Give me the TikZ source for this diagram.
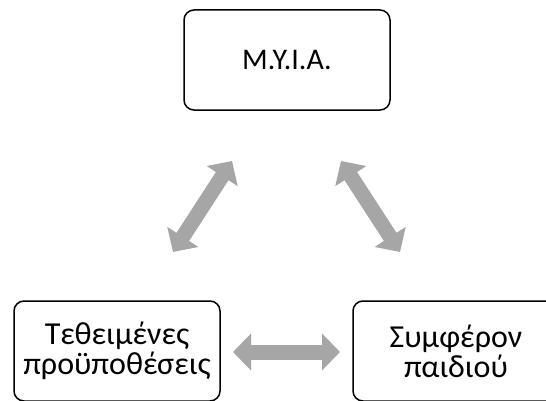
\documentclass[tikz,border=0pt]{standalone}
\usepackage{fontspec}
\setmainfont{Carlito}
\usetikzlibrary{arrows.meta}
\definecolor{arrowgray}{HTML}{A6A6A6}
\tikzset{
  box/.style={draw=black, line width=1.5pt, rounded corners=10pt,
    minimum width=206pt, minimum height=100pt, align=center,
    inner sep=0pt},
  toptext/.style={font=\fontsize{30}{32}\selectfont},
  bottext/.style={font=\fontsize{32}{30}\selectfont},
  dblarrow/.style={draw=arrowgray, line width=15pt,
    {Triangle[width=36pt,length=18pt]}-{Triangle[width=36pt,length=18pt]}}
}
\begin{document}
\begin{tikzpicture}[x=1pt,y=1pt]
\useasboundingbox (0,0) rectangle (546,400);
\clip (0,0) rectangle (546,400);
\node[box,toptext] (top) at (287,340) {M.Y.I.A.};
\node[box,bottext] (left) at (117,49) {Τεθειμένες\\προϋποθέσεις};
\node[box,bottext] (right) at (456,49) {Συμφέρον\\παιδιού};
\coordinate (l1) at (173,148);
\coordinate (l2) at (232,239);
\coordinate (r1) at (341,239);
\coordinate (r2) at (400,148);
\coordinate (h1) at (233,48);
\coordinate (h2) at (340,48);
\draw[dblarrow] (l1) -- (l2);
\draw[dblarrow] (r1) -- (r2);
\draw[dblarrow] (h1) -- (h2);
\end{tikzpicture}
\end{document}
